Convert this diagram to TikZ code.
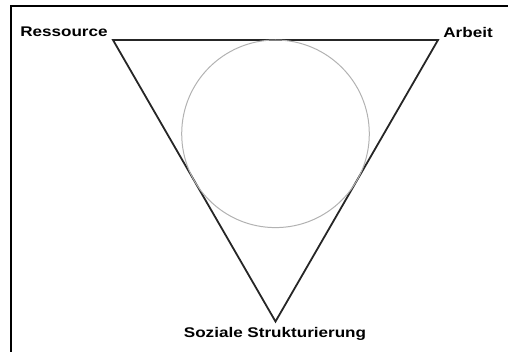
\documentclass[tikz,border=0pt]{standalone}
\usepackage{fontspec}
\newfontfamily\lblfont[FakeStretch=1.22]{Liberation Sans}
\usetikzlibrary{positioning}

\begin{document}
\begin{tikzpicture}[x=0.5pt,y=-0.5pt,
        lbl/.style={font=\lblfont\bfseries\fontsize{7}{8}\selectfont,inner sep=0pt},
        side/.style={line width=0.9pt,black!85},
        ring/.style={line width=0.5pt,gray!60}]
        \useasboundingbox (0,0) rectangle (508,352);
        % frame
        \draw[line width=1.3pt] (11,352) -- (11,6) -- (508,6);
        % triangle
        \coordinate (r) at (113,40);
        \coordinate (a) at (438,40);
        \coordinate (s) at (275.5,321.5);
        \draw[side] (r) -- (a) -- (s) -- cycle;
        \draw[ring] (275.5,133.8) circle (93.8);
        \node[lbl,anchor=base east] (ressource) at (108,36.5) {Ressource};
        \node[lbl,anchor=base west] (arbeit) at (443,37.5) {Arbeit};
        \node[lbl,anchor=base] (struktur) at (275,337) {Soziale Strukturierung};
    \end{tikzpicture}
\end{document}
